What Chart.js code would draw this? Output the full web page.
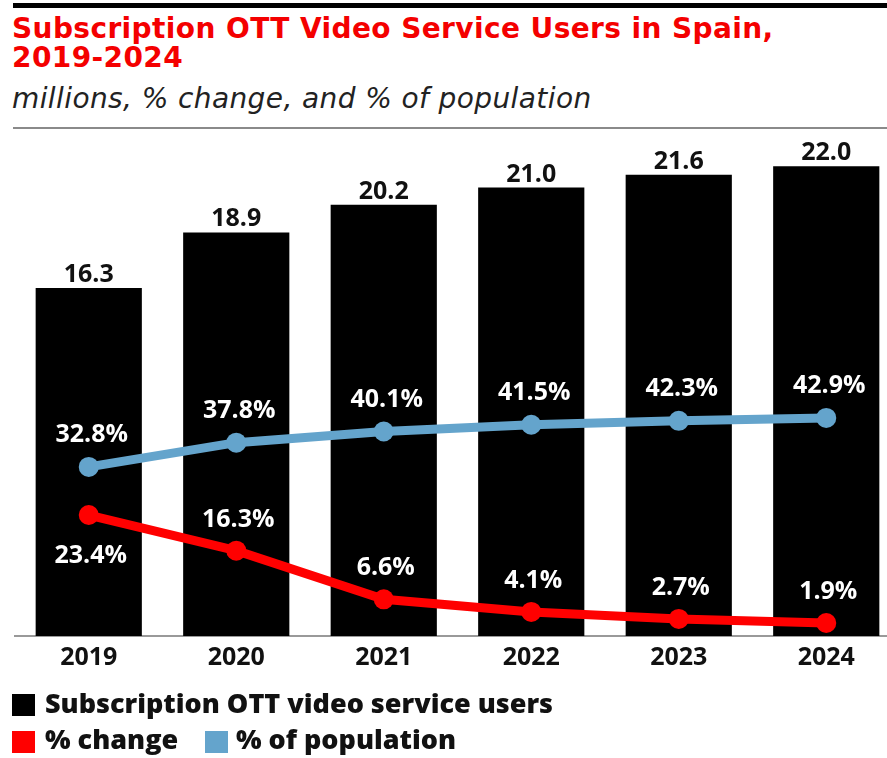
<!DOCTYPE html>
<html>
<head>
<meta charset="utf-8">
<script src="https://cdn.jsdelivr.net/npm/chart.js@4.4.0/dist/chart.umd.min.js"></script>
<style>
  body { margin: 0; width: 887px; height: 758px; overflow: hidden; background: #fff; position: relative; font-family: 'Open Sans', sans-serif; }
  .rule-top { position: absolute; left: 13px; right: 0; top: 3px; height: 5px; background: #000; }
  .rule-mid { position: absolute; left: 13px; right: 0; top: 127px; height: 2px; background: #8a8a8a; }
  .title { position: absolute; left: 12px; top: 14px; font-family: 'DejaVu Sans', sans-serif; font-size: 28px; line-height: 29px; letter-spacing: 0.4px; font-weight: 700; color: #f40000; white-space: nowrap; }
  .sub { position: absolute; left: 12px; top: 84px; font-family: 'DejaVu Sans', sans-serif; font-size: 28px; line-height: 30px; letter-spacing: 0.4px; font-style: italic; color: #222; white-space: nowrap; }
  canvas { position: absolute; left: 0; top: 0; }
  .sw { position: absolute; width: 23px; height: 22px; }
  .lg { position: absolute; font-size: 27px; line-height: 27px; font-weight: 800; color: #111; white-space: nowrap; }
</style>
</head>
<body>
<div class="rule-top"></div>
<div class="title">Subscription OTT Video Service Users in Spain,<br>2019-2024</div>
<div class="sub">millions, % change, and % of population</div>
<div class="rule-mid"></div>
<canvas id="chart" width="910" height="758"></canvas>

<div class="sw" style="left:12px; top:694px; background:#000;"></div>
<div class="lg" style="left:45px; top:689px;">Subscription OTT video service users</div>
<div class="sw" style="left:12px; top:731px; background:#f00;"></div>
<div class="lg" style="left:45px; top:725px;">% change</div>
<div class="sw" style="left:205px; top:731px; background:#64a4cc;"></div>
<div class="lg" style="left:236px; top:725px;">% of population</div>

<script>
var years = ['2019', '2020', '2021', '2022', '2023', '2024'];
var users = [16.3, 18.9, 20.2, 21.0, 21.6, 22.0];
var pctChange = [23.4, 16.3, 6.6, 4.1, 2.7, 1.9];
var pctPopulation = [32.8, 37.8, 40.1, 41.5, 42.3, 42.9];

// value labels on bars and points
var valueLabels = {
  id: 'valueLabels',
  afterDatasetsDraw: function(chart) {
    var ctx = chart.ctx;
    ctx.save();
    ctx.textAlign = 'center';
    ctx.textBaseline = 'alphabetic';
    ctx.font = 'bold 25px "Open Sans"';

    ctx.fillStyle = '#111';
    chart.getDatasetMeta(0).data.forEach(function(bar, i) {
      ctx.fillText(users[i].toFixed(1), bar.x, bar.y - 6);
    });

    ctx.fillStyle = '#fff';
    chart.getDatasetMeta(1).data.forEach(function(pt, i) {
      ctx.fillText(pctPopulation[i].toFixed(1) + '%', pt.x + 3, pt.y - 25);
    });
    chart.getDatasetMeta(2).data.forEach(function(pt, i) {
      var y = i === 0 ? pt.y + 48 : pt.y - 24;
      ctx.fillText(pctChange[i].toFixed(1) + '%', pt.x + 2, y);
    });
    ctx.restore();
  }
};

var ctx = document.getElementById('chart');
var chart = new Chart(ctx, {
  type: 'bar',
  data: {
    labels: years,
    datasets: [
      {
        label: 'Subscription OTT video service users',
        data: users,
        backgroundColor: '#000',
        categoryPercentage: 1,
        barPercentage: 0.72,
        yAxisID: 'y',
        order: 3
      },
      {
        type: 'line',
        label: '% of population',
        data: pctPopulation,
        borderColor: '#64a4cc',
        backgroundColor: '#64a4cc',
        borderWidth: 9,
        pointRadius: 10,
        pointBorderWidth: 0,
        tension: 0,
        yAxisID: 'yPop',
        order: 2
      },
      {
        type: 'line',
        label: '% change',
        data: pctChange,
        borderColor: '#f00',
        backgroundColor: '#f00',
        borderWidth: 9,
        pointRadius: 10,
        pointBorderWidth: 0,
        tension: 0,
        yAxisID: 'yChg',
        order: 1
      }
    ]
  },
  options: {
    responsive: false,
    animation: false,
    layout: { padding: { top: 140, left: 15, right: 3, bottom: 0 } },
    plugins: {
      legend: { display: false },
      tooltip: { enabled: false }
    },
    scales: {
      x: {
        grid: { display: false, drawTicks: false },
        border: { display: true, color: '#999', width: 2 },
        ticks: {
          color: '#111',
          padding: 7,
          font: { family: 'Open Sans', weight: 'bold', size: 25 }
        },
        afterFit: function(scale) { scale.height = 122; }
      },
      y: { display: false, min: 0, max: 23.23 },
      yPop: { display: false, min: -2.06, max: 100.2 },
      yChg: { display: false, min: -0.7, max: 98.1 }
    }
  },
  plugins: [valueLabels]
});
</script>
</body>
</html>
